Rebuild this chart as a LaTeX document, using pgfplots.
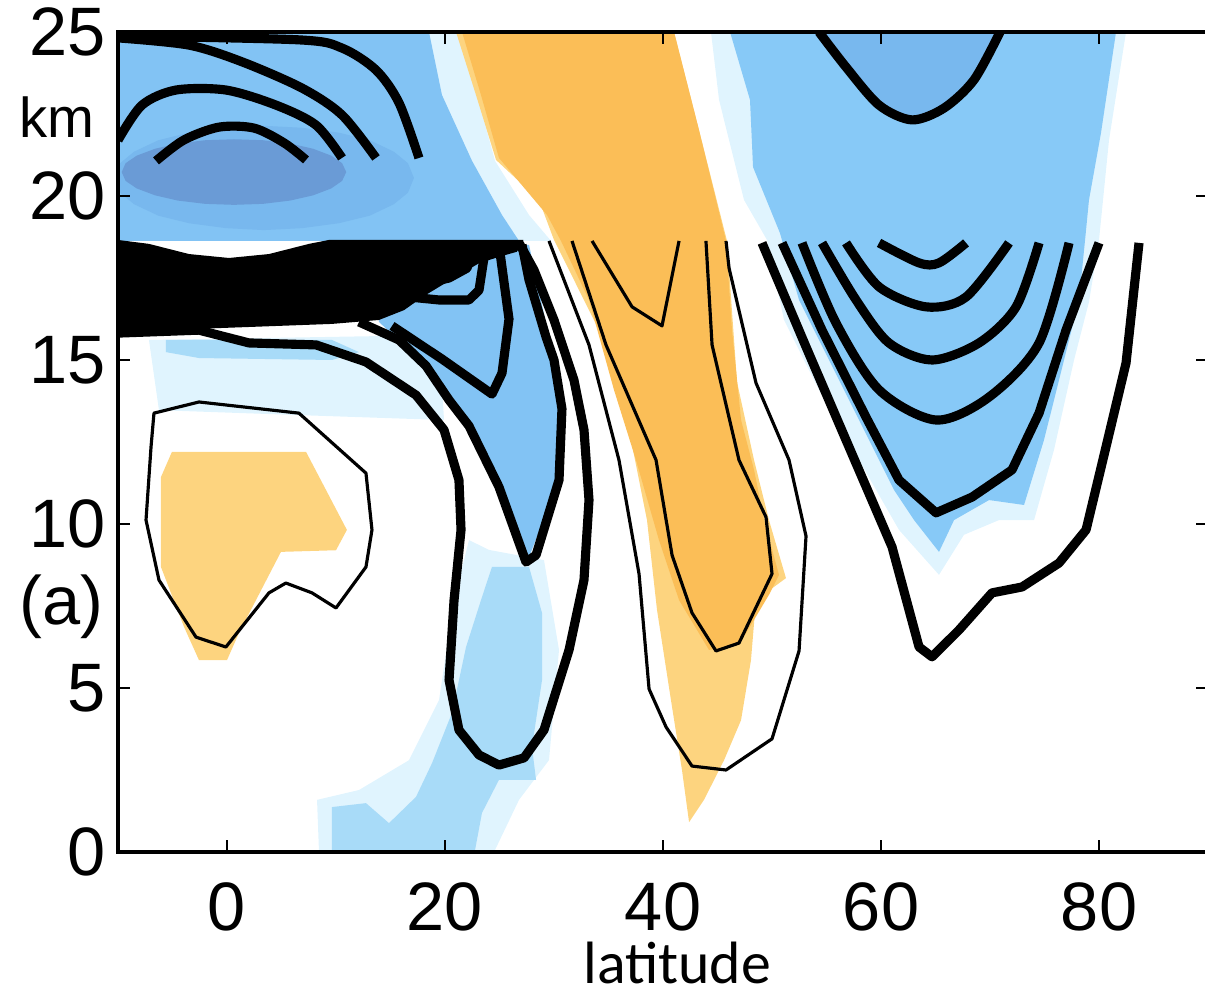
\documentclass[border=0pt]{standalone}
\usepackage{fontspec}
\setmainfont{Liberation Sans}
\newfontfamily\carlito{Carlito}
\usepackage{pgfplots}
\pgfplotsset{compat=1.18}
\definecolor{pale}{HTML}{E0F4FE}
\definecolor{lblue}{HTML}{A8DBF8}
\definecolor{mblue}{HTML}{82C3F4}
\definecolor{m2blue}{HTML}{87C9F7}
\definecolor{hblue}{HTML}{78B8EE}
\definecolor{dblue}{HTML}{6A9BD6}
\definecolor{lorange}{HTML}{FDD47F}
\definecolor{dorange}{HTML}{FBBE57}
\begin{document}
\begin{tikzpicture}
\useasboundingbox (-1.18,-1.48) rectangle (10.87,8.52);
\clip (-1.18,-1.48) rectangle (10.87,8.52);
\begin{axis}[
  at={(0,0)}, anchor=south west,
  width=10.9cm, height=8.2cm, scale only axis,
  xmin=-10, xmax=90, ymin=0, ymax=25,
  xtick={0,20,40,60,80}, ytick={0,5,10,15,20,25},
  tick align=inside, major tick length=0.12cm,
  tick style={black, line width=0.8pt},
  axis line style={line width=1.1pt},
  axis on top, no markers, clip mode=individual,
  tick label style={font=\fontsize{19.5}{22}\selectfont},
  /pgf/number format/assume math mode=true,
  xticklabel style={yshift=-0.18cm},
  thk/.style={black, line width=2.6pt, line join=round},
  thn/.style={black, line width=0.9pt, line join=round},
]
% ---- fills above 18.5 km, left
\addplot[fill=pale, draw=none] coordinates {(-10,25) (21.28,25) (22.94,23.08) (24.59,21.07) (27.71,19.42) (29.73,18.63) (-10,18.63)} -- cycle;
\addplot[fill=mblue, draw=none] coordinates {(-10,25) (18.53,25) (19.72,23.08) (22.48,21.07) (25.23,19.42) (26.79,18.63) (-10,18.63)} -- cycle;
\addplot[fill=hblue, draw=none] coordinates {(17.15,20.55) (16.6,21.0) (15.31,21.35) (13.1,21.7) (10.27,21.93) (6.9,22.08) (3.39,22.14) (-0.1,22.08) (-3.49,21.93) (-6.3,21.7) (-8.53,21.35) (-9.8,21.0) (-10.37,20.55) (-9.8,20.1) (-8.53,19.75) (-6.3,19.4) (-3.49,19.17) (-0.1,19.02) (3.39,18.96) (6.9,19.02) (10.27,19.17) (13.1,19.4) (15.31,19.75) (16.6,20.1)} -- cycle;
\addplot[fill=dblue, draw=none] coordinates {(10.94,20.73) (10.56,21.0) (9.56,21.23) (7.9,21.44) (5.79,21.60) (3.3,21.70) (0.64,21.73) (-2.0,21.70) (-4.51,21.60) (-6.6,21.44) (-8.28,21.23) (-9.3,21.0) (-9.66,20.73) (-9.3,20.46) (-8.28,20.23) (-6.6,20.02) (-4.51,19.86) (-2.0,19.76) (0.64,19.73) (3.3,19.76) (5.79,19.86) (7.9,20.02) (9.56,20.23) (10.56,20.46)} -- cycle;
% ---- 60N blue
\addplot[fill=pale, draw=none] coordinates {(44.40,25) (45.14,22.93) (47.43,19.88) (49.54,18.66) (51.10,16.22) (54.31,14.09) (57.98,11.95) (61.65,9.82) (65.32,8.45) (67.61,9.67) (70.83,10.12) (74.04,10.12) (75.87,12.26) (77.71,15.0) (79.08,16.77) (80.0,18.66) (80.92,21.71) (82.48,25)} -- cycle;
\addplot[fill=m2blue, draw=none] coordinates {(46.15,25) (47.98,22.93) (48.26,20.88) (50.73,18.87) (52.48,16.83) (55.23,15.0) (58.44,12.87) (61.19,11.04) (63.03,10.12) (65.32,9.15) (66.70,10.12) (69.91,10.73) (73.12,10.58) (74.95,12.56) (76.79,15.0) (78.17,16.83) (78.72,18.66) (79.08,19.88) (80.18,21.92) (81.56,25)} -- cycle;
\addplot[fill=hblue, draw=none] coordinates {(54.31,25) (56.79,23.93) (59.82,22.77) (62.84,22.32) (65.78,22.68) (68.53,23.54) (70.92,25)} -- cycle;
% ---- 25N blue
\addplot[fill=pale, draw=none] coordinates {(-7.16,15.61) (19.45,15.76) (19.91,13.17) (6.61,13.32) (-6.24,13.47)} -- cycle;
\addplot[fill=pale, draw=none] coordinates {(8.44,0) (8.26,1.59) (12.11,1.89) (16.70,2.80) (19.45,4.63) (20.83,7.68) (22.20,9.51) (24.04,9.21) (29.08,8.90) (30.46,6.16) (29.54,2.80) (26.79,1.59) (24.50,0)} -- cycle;
\addplot[fill=lblue, draw=none] coordinates {(-5.60,15.61) (9.63,15.61) (12.11,15.24) (9.63,15.0) (-2.57,15.06) (-5.60,15.24)} -- cycle;
\addplot[fill=lblue, draw=none] coordinates {(24.31,8.69) (27.71,8.69) (28.90,7.29) (28.90,5.24) (27.98,3.20) (28.35,2.20) (24.95,2.20) (23.39,1.19) (22.75,0.05) (9.63,0.05) (9.63,1.37) (12.75,1.49) (14.86,0.88) (17.34,1.68) (18.81,2.71) (20.64,4.24) (21.93,6.25) (23.39,7.77)} -- cycle;
\addplot[fill=mblue, draw=none] coordinates {(13.94,16.16) (18.26,14.82) (22.20,12.99) (24.95,11.13) (27.43,8.75) (30.46,11.34) (30.92,13.51) (29.54,15.70) (27.71,18.51) (13.94,18.51)} -- cycle;
% ---- orange
\addplot[fill=lorange, draw=none] coordinates {(-5.05,12.2) (7.25,12.2) (11.0,9.82) (10.0,9.2) (4.95,9.15) (1.1,6.68) (0,5.85) (-2.57,5.85) (-3.94,6.86) (-6.06,8.69) (-6.06,11.43)} -- cycle;
\addplot[fill=lorange, draw=none] coordinates {(21.01,25) (22.84,23.08) (24.68,21.10) (28.62,19.88) (30.0,18.66) (34.13,15.91) (36.88,12.87) (38.53,10.12) (39.45,7.38) (40.73,4.63) (41.74,2.50) (42.39,0.91) (43.76,1.59) (45.60,2.80) (47.16,4.02) (48.07,5.85) (48.53,7.68) (51.28,8.35) (49.72,10.12) (48.35,11.95) (46.79,14.33) (45.87,18.63) (43.30,22.01) (41.01,25)} -- cycle;
\addplot[fill=dorange, draw=none] coordinates {(21.56,25) (23.30,23.08) (24.95,21.16) (29.36,19.42) (30.64,18.63) (33.21,16.83) (35.50,14.09) (37.52,11.95) (39.63,9.51) (41.47,7.68) (44.22,6.16) (46.97,6.31) (49.72,7.84) (50.64,8.45) (49.27,10.12) (48.35,11.65) (47.16,13.17) (46.33,15.91) (45.78,18.63) (43.30,22.01) (41.01,25)} -- cycle;
% ---- dense contour band
\addplot[fill=black, draw=none] coordinates {(-10,18.66) (-7.16,18.54) (-3.49,18.23) (0.18,18.11) (3.85,18.23) (7.52,18.54) (9.36,18.66) (27.2,18.66) (26.6,18.3) (25.0,18.15) (23.12,17.95) (21.74,17.68) (19.91,17.32) (18.07,16.95) (16.24,16.52) (13.94,16.22) (9.63,16.10) (-2.57,15.95) (-10,15.82)} -- cycle;
% ---- contours above 18.5 km
\addplot[thk, smooth] coordinates {(-6.51,21.07) (-3.94,21.71) (-0.73,22.10) (2.48,22.07) (5.23,21.62) (7.25,21.10)};
\addplot[thk, smooth] coordinates {(-10,21.7) (-7.80,22.77) (-4.68,23.23) (-0.09,23.23) (4.50,22.77) (8.17,22.16) (10.55,21.16)};
\addplot[thk, smooth] coordinates {(-10,24.82) (-3.49,24.60) (1.38,24.09) (6.88,23.29) (10.55,22.47) (13.67,21.16)};
\addplot[thk, smooth] coordinates {(-10,24.88) (6.61,24.76) (10.55,24.51) (13.67,23.84) (15.78,22.84) (17.61,21.16)};
\addplot[thk, smooth] coordinates {(54.31,25) (56.79,23.93) (59.82,22.77) (62.84,22.32) (65.78,22.68) (68.53,23.54) (70.92,25)};
% ---- contours below 18.5 km, 25N
\addplot[thk] coordinates {(-10,15.82) (-2.57,15.91) (2.02,15.52) (8.17,15.46) (12.75,14.94) (17.34,13.93) (19.91,12.87) (21.28,11.34) (21.47,9.82) (20.83,7.68) (20.37,5.24) (21.28,3.72) (23.12,2.96) (24.95,2.65) (27.25,2.87) (29.08,3.72) (31.38,6.16) (32.75,8.29) (33.21,10.73) (32.75,12.87) (31.83,14.39) (30.0,16.22) (28.17,17.74) (26.79,18.57)};
\addplot[thk] coordinates {(12.11,16.16) (15.78,15.61) (18.26,14.82) (20.37,13.78) (22.20,12.99) (24.95,11.13) (27.43,8.84) (28.35,9.05) (30.46,11.34) (30.73,13.51) (30.0,15.0) (29.27,15.70) (27.71,17.44) (27.06,18.51)};
\addplot[thk] coordinates {(15.14,16.04) (19.72,15.03) (24.31,13.96) (25.23,14.60) (25.87,16.25) (24.95,18.51)};
\addplot[thk] coordinates {(16.70,16.92) (19.45,16.83) (22.20,16.83) (23.12,17.13) (23.76,18.51)};
\addplot[thk] coordinates {(18.07,17.32) (20.37,17.50) (22.02,17.80) (22.75,18.51)};
% ---- thin contours
\addplot[thn] coordinates {(-6.7,13.38) (-2.57,13.72) (6.6,13.38) (12.75,11.55) (13.3,9.82) (12.75,8.69) (10.0,7.44) (7.8,7.9) (5.4,8.2) (3.85,7.9) (-0.1,6.25) (-2.84,6.55) (-6.24,8.29) (-7.43,10.12) (-6.97,12.35)} -- cycle;
\addplot[thn] coordinates {(29.54,18.63) (33.21,15.46) (35.96,11.95) (37.80,8.48) (38.72,4.97) (40.28,3.81) (42.66,2.62) (45.78,2.50) (50.0,3.45) (52.48,6.13) (53.12,9.63) (51.56,11.95) (48.53,14.30) (46.06,17.80) (45.78,18.63)};
\addplot[thn] coordinates {(31.65,18.63) (34.77,15.46) (39.36,11.95) (40.83,9.05) (42.66,7.29) (44.86,6.13) (46.97,6.37) (50.0,8.48) (49.45,10.21) (46.97,11.95) (44.50,15.46) (43.94,18.63)};
\addplot[thn] coordinates {(33.49,18.63) (37.16,16.62) (39.91,16.04) (41.47,18.63)};
% ---- 60N contours
\addplot[thk, smooth] coordinates {(59.82,18.57) (63.49,17.96) (65.32,17.96) (67.80,18.57)};
\addplot[thk, smooth] coordinates {(56.79,18.57) (59.82,17.23) (64.13,16.62) (67.80,16.92) (71.74,18.57)};
\addplot[thk, smooth] coordinates {(54.59,18.57) (57.71,16.83) (60.73,15.52) (64.68,15.0) (68.99,15.52) (72.39,16.62) (74.50,18.57)};
\addplot[thk, smooth] coordinates {(52.75,18.57) (55.87,16.13) (59.82,14.09) (65.05,13.17) (69.91,13.87) (74.50,15.52) (77.25,18.57)};
\addplot[thk] coordinates {(50.92,18.57) (54.59,15.91) (58.62,13.26) (61.65,11.34) (65.05,10.34) (68.35,10.82) (72.02,11.65) (74.50,13.38) (76.97,15.91) (80.0,18.57)};
\addplot[thk] coordinates {(49.08,18.57) (53.12,15.40) (57.06,12.35) (61.01,9.30) (63.49,6.25) (64.68,5.95) (67.16,6.77) (70.18,7.90) (72.94,8.08) (76.33,8.81) (78.81,9.82) (80.64,12.35) (82.48,14.91) (83.67,18.57)};
% ---- texts
\node[font=\fontsize{16}{18}\selectfont] at (axis cs:-15.6,22.4) {km};
\node[font=\fontsize{19.5}{22}\selectfont] at (axis cs:-15.2,7.47) {(a)};
\node[anchor=base, inner sep=0pt, font=\carlito\fontsize{17}{20}\selectfont] at (axis cs:41.3,-4.02) {latitude};
\end{axis}
\end{tikzpicture}
\end{document}
